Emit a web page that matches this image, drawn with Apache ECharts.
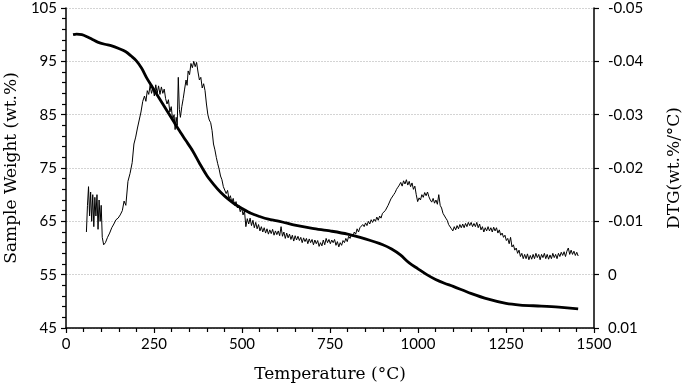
<!DOCTYPE html>
<html>
<head>
<meta charset="utf-8">
<script src="https://cdn.jsdelivr.net/npm/echarts@6/dist/echarts.min.js"></script>
<style>
  html, body { margin: 0; padding: 0; background: #fff; }
  #chart { width: 685px; height: 391px; }
</style>
</head>
<body>
<div id="chart"></div>
<script>
// TG curve (left axis, wt.%)
const tgTemp = [20, 30, 45, 60, 75, 90, 110, 130, 150, 170, 185, 200, 215, 230, 245, 260, 275, 290, 305, 320, 340, 360, 380, 400, 420, 440, 460, 480, 500, 525, 550, 575, 600, 625, 650, 700, 750, 800, 850, 900, 925, 950, 975, 1000, 1025, 1050, 1075, 1100, 1150, 1200, 1250, 1290, 1350, 1400, 1455];
const tgWeight = [100.0, 100.1, 100.0, 99.6, 99.1, 98.6, 98.2, 97.9, 97.4, 96.8, 96.0, 95.1, 93.7, 91.8, 90.2, 88.6, 87.0, 85.4, 83.8, 82.2, 80.2, 78.2, 75.8, 73.6, 71.9, 70.4, 69.2, 68.2, 67.4, 66.5, 65.9, 65.4, 65.1, 64.7, 64.3, 63.7, 63.2, 62.6, 61.7, 60.6, 59.8, 58.7, 57.2, 56.1, 55.0, 54.1, 53.4, 52.8, 51.5, 50.4, 49.6, 49.3, 49.1, 48.9, 48.6];

// DTG curve (right axis, wt.%/°C)
const dtgTemp = [58, 61, 64, 67, 70, 73, 76, 79, 82, 85, 88, 91, 94, 97, 100, 103, 107, 112, 118, 124, 130, 136, 142, 148, 154, 160, 165, 170, 176, 182, 188, 193, 198, 203, 208, 213, 218, 223, 227, 231, 235, 239, 243, 247, 251, 255, 259, 263, 267, 271, 275, 279, 283, 287, 291, 295, 299, 303, 307, 310, 313, 316, 319, 322, 325, 329, 333, 337, 341, 344, 347, 351, 355, 359, 363, 367, 371, 375, 379, 383, 387, 391, 395, 399, 403, 407, 411, 415, 419, 423, 427, 431, 435, 439, 443, 447, 451, 455, 459, 463, 467, 471, 475, 479, 483, 487, 491, 495, 499, 503, 507, 511, 515, 519, 523, 527, 531, 535, 539, 543, 547, 551, 555, 559, 563, 567, 571, 575, 579, 583, 587, 591, 595, 599, 603, 607, 611, 615, 619, 623, 627, 631, 635, 639, 643, 647, 651, 655, 659, 663, 667, 671, 675, 679, 683, 687, 691, 695, 699, 703, 707, 711, 715, 719, 723, 727, 731, 735, 739, 743, 747, 751, 755, 759, 763, 767, 771, 775, 779, 783, 787, 791, 795, 799, 803, 807, 811, 815, 819, 823, 827, 831, 835, 839, 843, 847, 851, 855, 859, 863, 867, 871, 875, 879, 883, 887, 891, 895, 899, 903, 907, 911, 915, 919, 923, 927, 931, 935, 939, 943, 947, 951, 955, 959, 963, 967, 971, 975, 979, 983, 987, 991, 995, 999, 1003, 1007, 1011, 1015, 1019, 1023, 1027, 1031, 1035, 1039, 1043, 1047, 1051, 1055, 1059, 1063, 1067, 1071, 1075, 1079, 1083, 1087, 1091, 1095, 1099, 1103, 1107, 1111, 1115, 1119, 1123, 1127, 1131, 1135, 1139, 1143, 1147, 1151, 1155, 1159, 1163, 1167, 1171, 1175, 1179, 1183, 1187, 1191, 1195, 1199, 1203, 1207, 1211, 1215, 1219, 1223, 1227, 1231, 1235, 1239, 1243, 1247, 1251, 1255, 1259, 1263, 1267, 1271, 1275, 1279, 1283, 1287, 1291, 1295, 1299, 1303, 1307, 1311, 1315, 1319, 1323, 1327, 1331, 1335, 1339, 1343, 1347, 1351, 1355, 1359, 1363, 1367, 1371, 1375, 1379, 1383, 1387, 1391, 1395, 1399, 1403, 1407, 1411, 1415, 1419, 1423, 1427, 1431, 1435, 1439, 1443, 1447, 1451, 1455];
const dtgRate = [-0.0080, -0.0130, -0.0165, -0.0110, -0.0155, -0.0100, -0.0150, -0.0090, -0.0145, -0.0110, -0.0150, -0.0085, -0.0140, -0.0100, -0.0130, -0.0070, -0.0056, -0.0060, -0.0070, -0.0078, -0.0088, -0.0095, -0.0103, -0.0106, -0.0112, -0.0120, -0.0138, -0.0130, -0.0175, -0.0190, -0.0210, -0.0245, -0.0258, -0.0275, -0.0290, -0.0305, -0.0325, -0.0335, -0.0325, -0.0345, -0.0338, -0.0355, -0.0340, -0.0350, -0.0335, -0.0356, -0.0340, -0.0354, -0.0338, -0.0352, -0.0340, -0.0348, -0.0330, -0.0320, -0.0328, -0.0305, -0.0315, -0.0290, -0.0300, -0.0272, -0.0295, -0.0280, -0.0370, -0.0310, -0.0295, -0.0315, -0.0330, -0.0348, -0.0365, -0.0355, -0.0382, -0.0375, -0.0396, -0.0388, -0.0400, -0.0390, -0.0398, -0.0380, -0.0365, -0.0370, -0.0350, -0.0358, -0.0345, -0.0320, -0.0300, -0.0290, -0.0285, -0.0270, -0.0245, -0.0234, -0.0220, -0.0208, -0.0198, -0.0185, -0.0178, -0.0165, -0.0168, -0.0152, -0.0158, -0.0142, -0.0148, -0.0136, -0.0143, -0.0130, -0.0137, -0.0125, -0.0130, -0.0118, -0.0125, -0.0112, -0.0120, -0.0090, -0.0105, -0.0095, -0.0106, -0.0092, -0.0102, -0.0088, -0.0098, -0.0086, -0.0094, -0.0082, -0.0090, -0.0080, -0.0088, -0.0078, -0.0086, -0.0076, -0.0084, -0.0077, -0.0085, -0.0074, -0.0082, -0.0075, -0.0082, -0.0073, -0.0090, -0.0072, -0.0080, -0.0068, -0.0078, -0.0069, -0.0076, -0.0066, -0.0074, -0.0063, -0.0073, -0.0065, -0.0072, -0.0064, -0.0070, -0.0060, -0.0069, -0.0062, -0.0068, -0.0058, -0.0067, -0.0060, -0.0066, -0.0056, -0.0065, -0.0058, -0.0064, -0.0053, -0.0060, -0.0054, -0.0065, -0.0056, -0.0068, -0.0060, -0.0066, -0.0058, -0.0065, -0.0060, -0.0066, -0.0055, -0.0062, -0.0052, -0.0060, -0.0055, -0.0064, -0.0060, -0.0068, -0.0062, -0.0072, -0.0068, -0.0076, -0.0072, -0.0080, -0.0076, -0.0086, -0.0080, -0.0088, -0.0085, -0.0094, -0.0090, -0.0097, -0.0092, -0.0100, -0.0095, -0.0103, -0.0098, -0.0104, -0.0100, -0.0108, -0.0102, -0.0110, -0.0106, -0.0115, -0.0112, -0.0120, -0.0123, -0.0130, -0.0133, -0.0142, -0.0140, -0.0150, -0.0154, -0.0160, -0.0164, -0.0168, -0.0173, -0.0166, -0.0176, -0.0170, -0.0178, -0.0168, -0.0175, -0.0165, -0.0172, -0.0160, -0.0166, -0.0150, -0.0137, -0.0144, -0.0140, -0.0150, -0.0145, -0.0154, -0.0148, -0.0155, -0.0146, -0.0140, -0.0136, -0.0143, -0.0134, -0.0140, -0.0132, -0.0150, -0.0130, -0.0125, -0.0115, -0.0118, -0.0106, -0.0102, -0.0094, -0.0096, -0.0086, -0.0082, -0.0090, -0.0084, -0.0092, -0.0086, -0.0094, -0.0088, -0.0095, -0.0088, -0.0096, -0.0090, -0.0098, -0.0092, -0.0098, -0.0090, -0.0096, -0.0090, -0.0098, -0.0088, -0.0095, -0.0084, -0.0090, -0.0080, -0.0088, -0.0082, -0.0090, -0.0082, -0.0088, -0.0080, -0.0089, -0.0082, -0.0088, -0.0078, -0.0084, -0.0074, -0.0078, -0.0070, -0.0074, -0.0064, -0.0068, -0.0058, -0.0070, -0.0052, -0.0056, -0.0046, -0.0050, -0.0040, -0.0046, -0.0034, -0.0040, -0.0030, -0.0038, -0.0030, -0.0039, -0.0028, -0.0036, -0.0029, -0.0038, -0.0030, -0.0040, -0.0032, -0.0038, -0.0028, -0.0038, -0.0032, -0.0040, -0.0030, -0.0038, -0.0029, -0.0037, -0.0030, -0.0040, -0.0032, -0.0038, -0.0030, -0.0040, -0.0034, -0.0042, -0.0036, -0.0043, -0.0034, -0.0044, -0.0050, -0.0038, -0.0046, -0.0038, -0.0044, -0.0036, -0.0042, -0.0035];

const chart = echarts.init(document.getElementById("chart"));

const labelFont = { fontFamily: "Lato", fontSize: 15, color: "#000" };
const titleFont = { fontFamily: "DejaVu Serif", fontSize: 17, color: "#000" };
const axisLine = { show: true, onZero: false, lineStyle: { color: "#000", width: 1.5 } };

chart.setOption({
  animation: false,
  grid: { left: 66, right: 91, top: 8, bottom: 63, containLabel: false, outerBoundsMode: "none" },
  xAxis: {
    type: "value", min: 0, max: 1500, interval: 250,
    name: "Temperature (°C)", nameLocation: "middle", nameGap: 38,
    nameTextStyle: titleFont,
    axisLine: axisLine,
    axisTick: { show: true, inside: false, length: 5, lineStyle: { color: "#000", width: 1.2 } },
    minorTick: { show: true, splitNumber: 5, length: 4, lineStyle: { color: "#000", width: 1.2 } },
    axisLabel: Object.assign({ margin: 9, formatter: (v) => String(v) }, labelFont),
    splitLine: { show: false }
  },
  yAxis: [
    {
      type: "value", min: 45, max: 105, interval: 10,
      name: "Sample Weight (wt.%)", nameLocation: "middle", nameGap: 45,
      nameTextStyle: titleFont,
      axisLine: axisLine,
      axisTick: { show: true, length: 5, lineStyle: { color: "#000", width: 1.2 } },
      minorTick: { show: true, splitNumber: 5, length: 4, lineStyle: { color: "#000", width: 1.2 } },
      axisLabel: Object.assign({ margin: 9 }, labelFont),
      splitLine: { show: true, lineStyle: { color: "#d4d4d4", width: 1, type: [2, 1] } }
    },
    {
      type: "value", min: -0.05, max: 0.01, interval: 0.01, inverse: true,
      position: "right",
      name: "DTG(wt.%/°C)", nameLocation: "middle", nameGap: 72, nameRotate: 90,
      nameTextStyle: titleFont,
      axisLine: axisLine,
      axisTick: { show: true, length: 5, lineStyle: { color: "#000", width: 1.2 } },
      axisLabel: Object.assign({
        margin: 14,
        formatter: (v) => (Math.abs(v) < 1e-9 ? "0" : v.toFixed(2))
      }, labelFont),
      splitLine: { show: false }
    }
  ],
  series: [
    {
      name: "DTG", type: "line", yAxisIndex: 1, showSymbol: false,
      lineStyle: { color: "#000", width: 1 },
      data: dtgTemp.map((t, i) => [t, dtgRate[i]])
    },
    {
      name: "TG", type: "line", yAxisIndex: 0, showSymbol: false, smooth: 0.3,
      lineStyle: { color: "#000", width: 2.8 },
      data: tgTemp.map((t, i) => [t, tgWeight[i]])
    }
  ]
});
</script>
</body>
</html>
